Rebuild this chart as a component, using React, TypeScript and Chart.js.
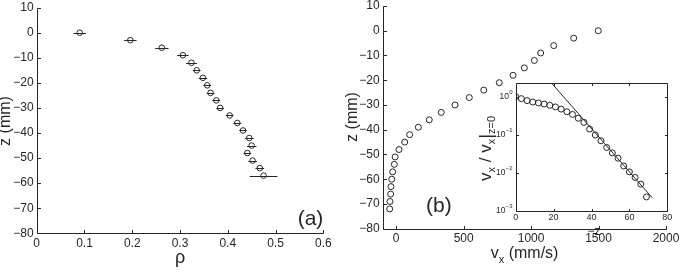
import React, { useEffect, useRef } from 'react';
import { Chart, registerables } from 'chart.js';

Chart.register(...registerables);

const FONT = '"Liberation Sans", Arial, Helvetica, sans-serif';
const INK = '#262626';

// ---------- data ----------
const depthA = [0, -3, -6, -9, -12, -15, -18, -21, -24, -27, -30, -33, -36, -39, -42, -45, -48, -51, -54, -57];
const rho = [0.090, 0.196, 0.262, 0.306, 0.324, 0.335, 0.348, 0.357, 0.364, 0.376, 0.384, 0.404, 0.420, 0.432, 0.445, 0.450, 0.441, 0.452, 0.467, 0.475];
const rhoErr = [0.013, 0.013, 0.014, 0.012, 0.0115, 0.008, 0.009, 0.008, 0.008, 0.008, 0.008, 0.008, 0.008, 0.008, 0.009, 0.010, 0.008, 0.009, 0.009, 0.029];

const depthB = [0, -3, -6, -9, -12, -15, -18, -21, -24, -27, -30, -33, -36, -39, -42, -45, -48, -51, -54, -57, -60, -63, -66, -69, -72];
const vx = [1498, 1316, 1168, 1071, 1024, 950, 866, 764, 649, 542, 436, 334, 245, 164, 100, 63, 21, -8, -14, -26, -33, -39, -41, -46, -48];

const depthInset = [0, 3, 6, 9, 12, 15, 18, 21, 24, 27, 30, 33, 36, 39, 42, 45, 48, 51, 54, 57, 60, 63, 66, 69];
const ratioInset = [1.0, 0.885, 0.785, 0.72, 0.68, 0.64, 0.59, 0.535, 0.47, 0.40, 0.34, 0.27, 0.21, 0.14, 0.098, 0.069, 0.046, 0.033, 0.024, 0.015, 0.0105, 0.0075, 0.005, 0.0023];
const fitDepth = [19, 72];
const fitRatio = [2.24, 0.0022];

const aXTicks = [0, 0.1, 0.2, 0.3, 0.4, 0.5, 0.6];
const zTicks = [10, 0, -10, -20, -30, -40, -50, -60, -70, -80];
const bXTicks = [0, 500, 1000, 1500, 2000];
const insetXTicks = [0, 20, 40, 60, 80];
const insetYTicks = [0.001, 0.01, 0.1, 1];
const insetYExp = ['\u22123', '\u22122', '\u22121', '0'];

// ---------- helpers ----------
type Seg = { t: string; size: number; dy: number };

function drawSegs(ctx: CanvasRenderingContext2D, segs: Seg[], x: number, y: number, rotate: boolean, align: 'left' | 'center' | 'right') {
  ctx.save();
  ctx.translate(x, y);
  if (rotate) ctx.rotate(-Math.PI / 2);
  ctx.textAlign = 'left';
  ctx.textBaseline = 'alphabetic';
  ctx.fillStyle = INK;
  let total = 0;
  for (const s of segs) {
    ctx.font = `${s.size}px ${FONT}`;
    total += ctx.measureText(s.t).width;
  }
  let cx = align === 'left' ? 0 : align === 'center' ? -total / 2 : -total;
  for (const s of segs) {
    ctx.font = `${s.size}px ${FONT}`;
    ctx.fillText(s.t, cx, s.dy);
    cx += ctx.measureText(s.t).width;
  }
  ctx.restore();
}

const fmt = (v: number) => String(v).replace('-', '\u2212');

function axesPlugin(mirror: boolean, tick: number) {
  return {
    id: 'axesDeco',
    beforeDraw(chart: any) {
      if (!mirror) return;
      const { ctx, chartArea: a } = chart;
      ctx.save();
      ctx.fillStyle = '#ffffff';
      ctx.fillRect(a.left, a.top, a.right - a.left, a.bottom - a.top);
      ctx.restore();
    },
    afterDraw(chart: any) {
      const { ctx, chartArea: a, scales } = chart;
      const L = Math.round(a.left) + 0.5;
      const R = Math.round(a.right) + 0.5;
      const T = Math.round(a.top) + 0.5;
      const B = Math.round(a.bottom) + 0.5;
      ctx.save();
      ctx.strokeStyle = INK;
      ctx.lineWidth = 1;
      ctx.beginPath();
      if (mirror) {
        ctx.rect(L, T, R - L, B - T);
      } else {
        ctx.moveTo(L, T);
        ctx.lineTo(L, B);
        ctx.lineTo(R, B);
      }
      for (const t of scales.x.ticks) {
        const px = Math.round(scales.x.getPixelForValue(t.value)) + 0.5;
        ctx.moveTo(px, B);
        ctx.lineTo(px, B - tick);
        if (mirror) {
          ctx.moveTo(px, T);
          ctx.lineTo(px, T + tick);
        }
      }
      for (const t of scales.y.ticks) {
        const py = Math.round(scales.y.getPixelForValue(t.value)) + 0.5;
        ctx.moveTo(L, py);
        ctx.lineTo(L + tick, py);
        if (mirror) {
          ctx.moveTo(R, py);
          ctx.lineTo(R - tick, py);
        }
      }
      ctx.stroke();
      ctx.restore();
    },
  };
}

type Box = { x: number; y: number; w: number; h: number };
type Area = { left: number; top: number; right: number; bottom: number };

function baseOptions(box: Box, area: Area) {
  return {
    animation: false,
    responsive: false,
    maintainAspectRatio: false,
    events: [] as any[],
    layout: {
      padding: { left: 0, bottom: 0, top: area.top - box.y, right: box.x + box.w - area.right },
    },
    plugins: { legend: { display: false }, tooltip: { enabled: false } },
  };
}

function tickFont(size: number) {
  return { family: FONT, size, lineHeight: 1.2 };
}

function Plot({ box, make }: { box: Box; make: () => any }) {
  const ref = useRef<HTMLCanvasElement>(null);
  useEffect(() => {
    if (!ref.current) return;
    const chart = new Chart(ref.current, make());
    return () => chart.destroy();
  }, []);
  return (
    <canvas
      ref={ref}
      width={box.w}
      height={box.h}
      style={{ position: 'absolute', left: box.x, top: box.y, width: box.w, height: box.h }}
    />
  );
}

// ---------- panel (a) ----------
const boxA: Box = { x: 0, y: -20, w: 340, h: 292 };
const areaA: Area = { left: 36.7, top: 7.6, right: 323.3, bottom: 233.3 };

function makeA() {
  const o: any = baseOptions(boxA, areaA);
  o.scales = {
    x: {
      type: 'linear', min: 0, max: 0.6,
      afterBuildTicks: (s: any) => { s.ticks = aXTicks.map((v) => ({ value: v })); },
      afterFit: (s: any) => { s.height = boxA.y + boxA.h - areaA.bottom; },
      grid: { display: false, drawTicks: false }, border: { display: false },
      ticks: { color: INK, font: tickFont(12), padding: 3.2, maxRotation: 0, callback: (v: number) => fmt(v) },
    },
    y: {
      type: 'linear', min: -80, max: 10,
      afterBuildTicks: (s: any) => { s.ticks = zTicks.map((v) => ({ value: v })); },
      afterFit: (s: any) => { s.width = areaA.left - boxA.x; },
      grid: { display: false, drawTicks: false }, border: { display: false },
      ticks: { color: INK, font: tickFont(12), padding: 3, callback: (v: number) => fmt(v) },
    },
  };
  const deco = {
    id: 'decoA',
    afterDatasetsDraw(chart: any) {
      const { ctx, scales } = chart;
      ctx.save();
      ctx.strokeStyle = INK;
      ctx.lineWidth = 1;
      ctx.beginPath();
      depthA.forEach((z, i) => {
        const py = Math.round(scales.y.getPixelForValue(z)) + 0.5;
        ctx.moveTo(scales.x.getPixelForValue(rho[i] - rhoErr[i]), py);
        ctx.lineTo(scales.x.getPixelForValue(rho[i] + rhoErr[i]), py);
      });
      ctx.stroke();
      ctx.restore();
    },
    afterDraw(chart: any) {
      const ctx = chart.ctx;
      const ox = -boxA.x, oy = -boxA.y;
      drawSegs(ctx, [{ t: 'z (mm)', size: 16, dy: 0 }], 10 + ox, 121 + oy, true, 'center');
      drawSegs(ctx, [{ t: '\u03c1', size: 18, dy: 0 }], 180 + ox, 263 + oy, false, 'center');
      drawSegs(ctx, [{ t: '(a)', size: 21, dy: 0 }], 323.3 + ox, 224.5 + oy, false, 'right');
    },
  };
  return {
    type: 'scatter',
    data: {
      datasets: [{
        data: depthA.map((z, i) => ({ x: rho[i], y: z })),
        pointRadius: 2.8, pointStyle: 'circle', borderColor: INK, backgroundColor: 'rgba(0,0,0,0)', borderWidth: 1,
      }],
    },
    options: o,
    plugins: [axesPlugin(false, 3.5), deco],
  };
}

// ---------- panel (b) ----------
const boxB: Box = { x: 340, y: -20, w: 360, h: 292 };
const areaB: Area = { left: 382.7, top: 6, right: 666, bottom: 228.7 };

function makeB() {
  const o: any = baseOptions(boxB, areaB);
  o.scales = {
    x: {
      type: 'linear', min: -100, max: 2000,
      afterBuildTicks: (s: any) => { s.ticks = bXTicks.map((v) => ({ value: v })); },
      afterFit: (s: any) => { s.height = boxB.y + boxB.h - areaB.bottom; },
      grid: { display: false, drawTicks: false }, border: { display: false },
      ticks: { color: INK, font: tickFont(12), padding: 3.2, maxRotation: 0, callback: (v: number) => fmt(v) },
    },
    y: {
      type: 'linear', min: -80, max: 10,
      afterBuildTicks: (s: any) => { s.ticks = zTicks.map((v) => ({ value: v })); },
      afterFit: (s: any) => { s.width = areaB.left - boxB.x; },
      grid: { display: false, drawTicks: false }, border: { display: false },
      ticks: { color: INK, font: tickFont(12), padding: 3, callback: (v: number) => fmt(v) },
    },
  };
  const deco = {
    id: 'decoB',
    afterDraw(chart: any) {
      const ctx = chart.ctx;
      const ox = -boxB.x, oy = -boxB.y;
      drawSegs(ctx, [{ t: 'z (mm)', size: 16, dy: 0 }], 357 + ox, 117 + oy, true, 'center');
      drawSegs(ctx, [
        { t: 'v', size: 16, dy: 0 },
        { t: 'x', size: 11, dy: 5 },
        { t: ' (mm/s)', size: 16, dy: 0 },
      ], 490.7 + ox, 258 + oy, false, 'left');
      drawSegs(ctx, [{ t: '(b)', size: 21, dy: 0 }], 426 + ox, 211.5 + oy, false, 'left');
    },
  };
  return {
    type: 'scatter',
    data: {
      datasets: [{
        data: depthB.map((z, i) => ({ x: vx[i], y: z })),
        pointRadius: 3, pointStyle: 'circle', borderColor: INK, backgroundColor: 'rgba(0,0,0,0)', borderWidth: 1,
      }],
    },
    options: o,
    plugins: [axesPlugin(false, 3.5), deco],
  };
}

// ---------- inset ----------
const boxI: Box = { x: 470, y: 60, w: 210, h: 212 };
const areaI: Area = { left: 515.7, top: 83.3, right: 667.3, bottom: 210.7 };

function makeInset() {
  const o: any = baseOptions(boxI, areaI);
  o.scales = {
    x: {
      type: 'linear', min: 0, max: 80,
      afterBuildTicks: (s: any) => { s.ticks = insetXTicks.map((v) => ({ value: v })); },
      afterFit: (s: any) => { s.height = boxI.y + boxI.h - areaI.bottom; },
      grid: { display: false, drawTicks: false }, border: { display: false },
      ticks: { color: INK, font: tickFont(9), padding: 1.2, maxRotation: 0, callback: (v: number) => fmt(v) },
    },
    y: {
      type: 'logarithmic', min: 0.001, max: 2.24,
      afterBuildTicks: (s: any) => { s.ticks = insetYTicks.map((v) => ({ value: v })); },
      afterFit: (s: any) => { s.width = areaI.left - boxI.x; },
      grid: { display: false, drawTicks: false }, border: { display: false },
      ticks: { display: false },
    },
  };
  const deco = {
    id: 'decoI',
    afterDraw(chart: any) {
      const { ctx, scales } = chart;
      const ox = -boxI.x, oy = -boxI.y;
      insetYTicks.forEach((v, i) => {
        const py = scales.y.getPixelForValue(v);
        ctx.save();
        ctx.fillStyle = INK;
        ctx.textBaseline = 'middle';
        ctx.textAlign = 'right';
        ctx.font = `6px ${FONT}`;
        const ew = ctx.measureText(insetYExp[i]).width;
        const right = areaI.left - 3 + ox;
        ctx.fillText(insetYExp[i], right, py - 4);
        ctx.font = `8.5px ${FONT}`;
        ctx.fillText('10', right - ew - 0.5, py);
        ctx.restore();
      });
      drawSegs(ctx, [
        { t: 'v', size: 17, dy: 0 },
        { t: 'x', size: 11, dy: 4 },
        { t: ' / v', size: 17, dy: 0 },
        { t: 'x', size: 11, dy: 4 },
        { t: '|', size: 19, dy: 1 },
        { t: 'z=0', size: 11, dy: 4 },
      ], 491 + ox, 181 + oy, true, 'left');
      drawSegs(ctx, [{ t: '\u2212z', size: 12, dy: 0 }], 594 + ox, 235 + oy, false, 'center');
    },
  };
  return {
    type: 'scatter',
    data: {
      datasets: [
        {
          data: fitDepth.map((d, i) => ({ x: d, y: fitRatio[i] })),
          showLine: true, pointRadius: 0, borderColor: INK, borderWidth: 1, backgroundColor: 'rgba(0,0,0,0)',
        },
        {
          data: depthInset.map((d, i) => ({ x: d, y: ratioInset[i] })),
          pointRadius: 3, pointStyle: 'circle', borderColor: INK, backgroundColor: 'rgba(0,0,0,0)', borderWidth: 1,
        },
      ],
    },
    options: o,
    plugins: [axesPlugin(true, 2.5), deco],
  };
}

export default function App() {
  return (
    <div style={{ position: 'fixed', left: 0, top: 0, width: 680, height: 272, overflow: 'hidden', background: '#ffffff' }}>
      <Plot box={boxA} make={makeA} />
      <Plot box={boxB} make={makeB} />
      <Plot box={boxI} make={makeInset} />
    </div>
  );
}
